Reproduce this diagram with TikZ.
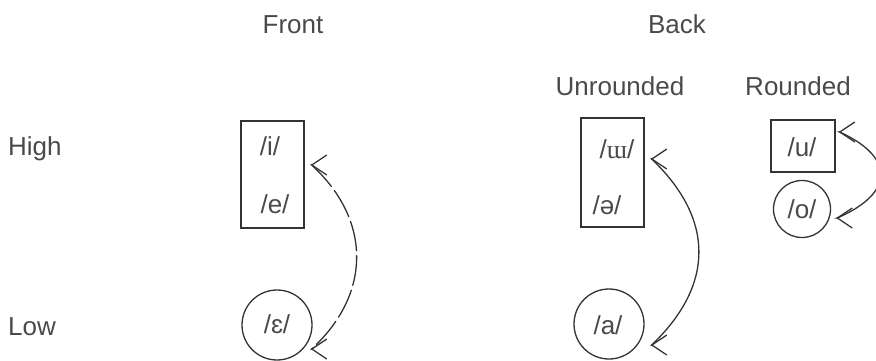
\documentclass[tikz,border=0pt]{standalone}
\usepackage{fontspec}
\setmainfont{Liberation Sans}
\newfontfamily\ipaserif{Liberation Serif}
\usetikzlibrary{arrows.meta,calc}
\definecolor{ink}{HTML}{333333}
\definecolor{txt}{HTML}{4A4A4A}
\tikzset{
  lbl/.style={font=\fontsize{26}{30}\selectfont, text=txt, inner sep=0pt},
  vbox/.style={draw=ink, line width=1.3pt, inner sep=0pt},
  vcirc/.style={draw=ink, line width=1.3pt, circle, inner sep=0pt},
  conn/.style={draw=ink, line width=1.3pt, line cap=round, {Straight Barb[length=15pt,width=20pt,line width=1.3pt]}-{Straight Barb[length=15pt,width=20pt,line width=1.3pt]}},
  dconn/.style={conn, dash pattern=on 30pt off 5pt}
}
\begin{document}
\begin{tikzpicture}[x=1pt,y=1pt]
\useasboundingbox (0,0) rectangle (876,360);
% headings
\node[lbl, anchor=base] (front) at (293,327) {Front};
\node[lbl, anchor=base] (back) at (677,327) {Back};
\node[lbl, anchor=base] (unr) at (620,265) {Unrounded};
\node[lbl, anchor=base] (rnd) at (798,265) {Rounded};
\node[lbl, anchor=base west] (high) at (8,205) {High};
\node[lbl, anchor=base west] (low) at (8,25) {Low};
% front
\node[vbox, minimum width=63pt, minimum height=107pt] (fbox) at (272.5,185.5) {};
\node[lbl] (fi) at (270,214) {/i/};
\node[lbl] (fe) at (275,156) {/e/};
\node[vcirc, minimum size=70pt] (fc) at (277,35) {};
\node[lbl] (feps) at (277,36) {/ɛ/};
% back unrounded
\node[vbox, minimum width=63pt, minimum height=109pt] (bbox) at (612.5,187.5) {};
\node[lbl] (bw) at (617,211) {/{\ipaserif ɯ}/};
\node[lbl] (bschwa) at (607,155) {/ə/};
\node[vcirc, minimum size=70pt] (bc) at (609,36) {};
\node[lbl] (ba) at (608,35) {/a/};
% back rounded
\node[vbox, minimum width=64pt, minimum height=52pt] (rbox) at (803,214) {};
\node[lbl] (ru) at (802,213) {/u/};
\node[vcirc, minimum size=57pt] (rc) at (802,151) {};
\node[lbl] (ro) at (802,151) {/o/};
% connector ends
\coordinate (ft) at ($(fbox.east)+(6,9.5)$);
\coordinate (fb) at ($(fc.east)+(-2,-24)$);
\coordinate (bt) at ($(bbox.east)+(6,13.5)$);
\coordinate (bb) at ($(bc.east)+(6,-21)$);
\coordinate (rt) at ($(rbox.east)+(3,14)$);
\coordinate (rb) at ($(rc.east)+(5,-9)$);
% connectors
\draw[dconn] (ft) -- ++(1,0) .. controls ($(ft)+(61,-55)$) and ($(fb)+(61,55)$) .. ($(fb)+(1,0)$) -- (fb);
\draw[conn] (bt) -- ++(1,0) .. controls ($(bt)+(64,-60)$) and ($(bb)+(64,60)$) .. ($(bb)+(1,0)$) -- (bb);
\draw[conn] (rt) -- ++(1,0) .. controls ($(rt)+(56,-25)$) and ($(rb)+(59,25)$) .. ($(rb)+(1,0)$) -- (rb);
\end{tikzpicture}
\end{document}
